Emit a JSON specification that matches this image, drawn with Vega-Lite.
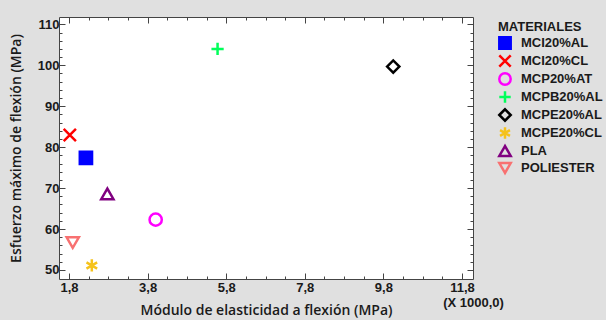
{
  "$schema": "https://vega.github.io/schema/vega-lite/v6.json",
  "width": 414,
  "height": 262,
  "autosize": {"type": "none"},
  "padding": {"left": 59, "top": 17, "right": 133, "bottom": 41},
  "background": "#e0e0e0",
  "config": {
    "font": "Liberation Sans",
    "view": {"fill": "white", "stroke": "#444444", "strokeWidth": 1},
    "axis": {"grid": false, "domain": false, "tickColor": "#444444", "tickWidth": 1,
             "labelFont": "Liberation Sans", "labelFontWeight": "bold", "labelFontSize": 13, "labelColor": "#1a1a1a",
             "titleFont": "Open Sans", "titleFontWeight": 600, "titleFontSize": 14, "titleColor": "#1a1a1a"},
    "legend": {"titleFont": "Liberation Sans", "titleFontSize": 13, "titleFontWeight": "bold", "titleColor": "#1a1a1a",
               "labelFont": "Liberation Sans", "labelFontSize": 13, "labelFontWeight": "bold", "labelColor": "#1a1a1a",
               "symbolSize": 130, "symbolStrokeWidth": 2.5, "titlePadding": 2, "padding": 4,
               "offset": 20, "labelOffset": 9, "labelLimit": 200}
  },
  "data": {"values": [
    {"material": "MCI20%AL", "modulo": 2230, "esfuerzo": 77.4},
    {"material": "MCI20%CL", "modulo": 1820, "esfuerzo": 83.0},
    {"material": "MCP20%AT", "modulo": 4005, "esfuerzo": 62.3},
    {"material": "MCPB20%AL", "modulo": 5580, "esfuerzo": 104.0},
    {"material": "MCPE20%AL", "modulo": 10050, "esfuerzo": 99.7},
    {"material": "MCPE20%CL", "modulo": 2380, "esfuerzo": 51.1},
    {"material": "PLA", "modulo": 2775, "esfuerzo": 68.6},
    {"material": "POLIESTER", "modulo": 1895, "esfuerzo": 56.7}
  ]},
  "resolve": {"scale": {"x": "shared", "y": "shared"}, "axis": {"x": "independent", "y": "independent"}},
  "layer": [
    {
      "mark": {"type": "point", "opacity": 0},
      "encoding": {
        "x": {"field": "modulo", "type": "quantitative", "scale": {"domain": [1545, 12080], "nice": false, "zero": false},
              "axis": {"orient": "top", "values": [2300, 2800, 3300, 4300, 4800, 5300, 6300, 6800, 7300, 8300, 8800, 9300, 10300, 10800, 11300], "labels": false, "tickSize": -3, "title": null}},
        "y": {"field": "esfuerzo", "type": "quantitative", "scale": {"domain": [47.8, 111.8], "nice": false, "zero": false},
              "axis": {"orient": "right", "values": [52, 54, 56, 58, 62, 64, 66, 68, 72, 74, 76, 78, 82, 84, 86, 88, 92, 94, 96, 98, 102, 104, 106, 108], "labels": false, "tickSize": -3, "title": null}}
      }
    },
    {
      "mark": {"type": "point", "opacity": 0},
      "encoding": {
        "x": {"field": "modulo", "type": "quantitative",
              "axis": {"orient": "bottom", "values": [2300, 2800, 3300, 4300, 4800, 5300, 6300, 6800, 7300, 8300, 8800, 9300, 10300, 10800, 11300], "labels": false, "tickSize": -3,
                       "title": "(X 1000,0)", "titleFont": "Liberation Sans", "titleFontWeight": "bold", "titleFontSize": 13,
                       "titleX": 414, "titleY": 17, "titleAnchor": null, "titleAlign": "center", "titleBaseline": "top"}},
        "y": {"field": "esfuerzo", "type": "quantitative",
              "axis": {"orient": "left", "values": [52, 54, 56, 58, 62, 64, 66, 68, 72, 74, 76, 78, 82, 84, 86, 88, 92, 94, 96, 98, 102, 104, 106, 108], "labels": false, "tickSize": -3, "title": null}}
      }
    },
    {
      "mark": {"type": "point", "opacity": 0},
      "encoding": {
        "x": {"field": "modulo", "type": "quantitative",
              "axis": {"orient": "top", "values": [1800, 3800, 5800, 7800, 9800, 11800], "labels": false, "tickSize": -6, "title": null}},
        "y": {"field": "esfuerzo", "type": "quantitative",
              "axis": {"orient": "right", "values": [50, 60, 70, 80, 90, 100, 110], "labels": false, "tickSize": -6, "title": null}}
      }
    },
    {
      "mark": {"type": "point", "filled": false, "strokeWidth": 2.5, "size": 150, "opacity": 1},
      "encoding": {
        "x": {"field": "modulo", "type": "quantitative",
              "axis": {"orient": "bottom", "values": [1800, 3800, 5800, 7800, 9800, 11800], "tickSize": -6, "labelPadding": 8,
                       "labelExpr": "replace(format(datum.value / 1000, '.1f'), '.', ',')",
                       "title": "Módulo de elasticidad a flexión (MPa)", "titleY": 24, "titleBaseline": "top"}},
        "y": {"field": "esfuerzo", "type": "quantitative",
              "axis": {"orient": "left", "values": [50, 60, 70, 80, 90, 100, 110], "tickSize": -6, "labelPadding": 6,
                       "title": "Esfuerzo máximo de flexión (MPa)", "titlePadding": 14}},
        "stroke": {"field": "material", "type": "nominal",
                   "scale": {"domain": ["MCI20%AL", "MCI20%CL", "MCP20%AT", "MCPB20%AL", "MCPE20%AL", "MCPE20%CL", "PLA", "POLIESTER"],
                             "range": ["#0000ff", "#ff0000", "#ff00ff", "#00ff5a", "#000000", "#f5c21b", "#800080", "#f87171"]},
                   "legend": {"title": "MATERIALES", "rowPadding": -9}},
        "fill": {"field": "material", "type": "nominal",
                 "scale": {"domain": ["MCI20%AL", "MCI20%CL", "MCP20%AT", "MCPB20%AL", "MCPE20%AL", "MCPE20%CL", "PLA", "POLIESTER"],
                           "range": ["#0000ff", "transparent", "transparent", "transparent", "transparent", "transparent", "transparent", "transparent"]},
                 "legend": {"title": "MATERIALES", "rowPadding": -9}},
        "shape": {"field": "material", "type": "nominal",
                  "scale": {"domain": ["MCI20%AL", "MCI20%CL", "MCP20%AT", "MCPB20%AL", "MCPE20%AL", "MCPE20%CL", "PLA", "POLIESTER"],
                            "range": ["square", "M-1,-1L1,1M1,-1L-1,1", "circle", "M0,-1L0,1M-1,0L1,0", "diamond", "M0,-1L0,1M-0.87,-0.5L0.87,0.5M-0.87,0.5L0.87,-0.5", "triangle-up", "triangle-down"]},
                  "legend": {"title": "MATERIALES", "rowPadding": -9}}
      }
    }
  ]
}
